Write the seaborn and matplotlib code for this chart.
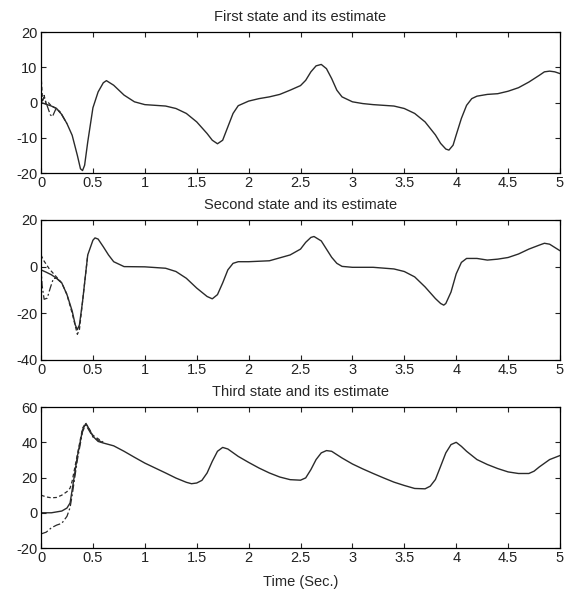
import matplotlib
matplotlib.use('Agg')

import matplotlib.pyplot as plt
import seaborn as sns

# first state (true) and two estimates near the start
t1 = [0, 0.05, 0.1, 0.15, 0.2, 0.25, 0.3, 0.35, 0.38, 0.4, 0.42, 0.45, 0.5, 0.55, 0.6,
      0.63, 0.7, 0.75, 0.8, 0.9, 1.0, 1.1, 1.2, 1.3, 1.4, 1.5, 1.6, 1.65, 1.7, 1.75,
      1.8, 1.85, 1.9, 2.0, 2.1, 2.2, 2.3, 2.4, 2.5, 2.55, 2.6, 2.65, 2.7, 2.75, 2.8,
      2.85, 2.9, 3.0, 3.1, 3.2, 3.3, 3.4, 3.5, 3.6, 3.7, 3.8, 3.85, 3.9, 3.93, 3.97,
      4.0, 4.05, 4.1, 4.15, 4.2, 4.3, 4.4, 4.5, 4.6, 4.7, 4.8, 4.85, 4.9, 4.95, 5.0]
x1 = [0, -0.5, -1, -1.7, -3.4, -6, -9.3, -15, -18.8, -19.3, -17.8, -11.2, -1.5, 3, 5.6,
      6.2, 4.9, 3.5, 2.1, 0.2, -0.6, -0.8, -1, -1.7, -3.1, -5.5, -8.8, -10.7, -11.7, -10.7,
      -6.9, -3.1, -0.9, 0.4, 1.1, 1.6, 2.3, 3.5, 4.8, 6.3, 8.7, 10.4, 10.8, 9.6, 6.8,
      3.5, 1.6, 0.2, -0.3, -0.6, -0.8, -1, -1.7, -3.1, -5.5, -9.2, -11.6, -13.2, -13.5, -12.1,
      -9.2, -4.5, -0.8, 1.1, 1.8, 2.3, 2.5, 3.2, 4.2, 5.8, 7.7, 8.7, 8.9, 8.7, 8.2]
t1_est_a = [0, 0.015, 0.03, 0.05, 0.07, 0.1, 0.15, 0.2]
x1_est_a = [8, 0.5, 2, -0.5, 0, -1, -1.7, -3.4]
t1_est_b = [0, 0.03, 0.06, 0.09, 0.11, 0.14, 0.18, 0.25]
x1_est_b = [0, 1.5, -1, -3.5, -4, -2, -2.5, -6]

# second state
t2 = [0, 0.05, 0.1, 0.15, 0.2, 0.25, 0.3, 0.33, 0.35, 0.37, 0.4, 0.45, 0.5, 0.52, 0.55,
      0.6, 0.65, 0.7, 0.8, 1.0, 1.2, 1.3, 1.4, 1.5, 1.6, 1.65, 1.7, 1.75, 1.8, 1.85,
      1.9, 2.0, 2.2, 2.4, 2.5, 2.55, 2.6, 2.63, 2.7, 2.75, 2.8, 2.85, 2.9, 3.0, 3.2,
      3.4, 3.5, 3.6, 3.7, 3.8, 3.85, 3.88, 3.9, 3.95, 4.0, 4.05, 4.1, 4.2, 4.3, 4.4,
      4.5, 4.6, 4.7, 4.8, 4.85, 4.9, 4.95, 5.0]
x2 = [-1.4, -2.4, -3.5, -5, -7, -12, -19, -25, -27, -25, -15, 5, 11.3, 12.3, 11.8,
      8.5, 5, 2.1, 0, -0.1, -0.7, -2.1, -5, -9.2, -12.8, -13.8, -12, -7, -1.4, 1.4,
      2.1, 2.1, 2.5, 5, 7.5, 10.4, 12.5, 12.9, 11, 7.5, 4, 1.4, 0.1, -0.3, -0.3,
      -1, -2.1, -4.4, -8.7, -13.7, -15.8, -16.5, -15.8, -10.9, -3.1, 1.8, 3.5, 3.5, 2.8, 3.2,
      3.9, 5.4, 7.5, 9.2, 10, 9.6, 8.2, 6.8]
t2_est_a = [0, 0.02, 0.05, 0.08, 0.12, 0.16, 0.2, 0.25, 0.3, 0.35, 0.37, 0.4, 0.45]
x2_est_a = [5, 3, 1, -1, -3, -5, -7, -12, -20, -29, -27, -15, 5]
t2_est_b = [0, 0.01, 0.03, 0.06, 0.09, 0.12, 0.15, 0.2]
x2_est_b = [0, -8, -14, -13.5, -9, -5, -5, -7]

# third state
t3 = [0, 0.1, 0.2, 0.25, 0.28, 0.3, 0.35, 0.4, 0.43, 0.45, 0.5, 0.55, 0.6, 0.7, 0.8,
      0.9, 1.0, 1.1, 1.2, 1.3, 1.4, 1.45, 1.5, 1.55, 1.6, 1.65, 1.7, 1.75, 1.8, 1.9,
      2.0, 2.1, 2.2, 2.3, 2.4, 2.5, 2.55, 2.6, 2.65, 2.7, 2.75, 2.8, 2.9, 3.0, 3.1,
      3.2, 3.3, 3.4, 3.5, 3.6, 3.7, 3.75, 3.8, 3.85, 3.9, 3.95, 4.0, 4.05, 4.1, 4.2,
      4.3, 4.4, 4.5, 4.6, 4.7, 4.75, 4.8, 4.9, 5.0]
x3 = [0, 0, 1, 2.7, 5.6, 13, 32, 47, 50.5, 49, 43.4, 40.5, 39.6, 38, 34.9,
      31.5, 28.2, 25.4, 22.6, 19.7, 17.3, 16.5, 16.9, 18.4, 22.6, 29.2, 34.9, 37.1, 36.2, 32,
      28.6, 25.4, 22.6, 20.3, 18.8, 18.5, 19.8, 24.5, 30.2, 34, 35.3, 34.9, 31.1, 27.7, 24.9,
      22.3, 19.8, 17.4, 15.5, 13.8, 13.6, 15.1, 18.9, 26.4, 34, 38.7, 40, 37.7, 34.9, 30.2,
      27.4, 25.1, 23.2, 22.3, 22.3, 23.6, 26, 30.2, 32.5]
t3_est_a = [0, 0.05, 0.1, 0.15, 0.2, 0.25, 0.28, 0.3, 0.35, 0.4, 0.43, 0.5, 0.6]
x3_est_a = [10, 9, 8.5, 8.7, 10, 12, 14, 18, 33, 48, 51, 44, 40]
t3_est_b = [0, 0.05, 0.1, 0.15, 0.2, 0.25, 0.28, 0.3, 0.35, 0.4, 0.43, 0.5, 0.6]
x3_est_b = [-12, -11, -8.5, -7, -6, -2, 3, 10, 30, 46, 50, 43, 39.6]

titles = ["First state and its estimate",
          "Second state and its estimate",
          "Third state and its estimate"]
ylims = [(-20, 20), (-40, 20), (-20, 60)]
yticks = [[-20, -10, 0, 10, 20], [-40, -20, 0, 20], [-20, 0, 20, 40, 60]]
xticks = [0, 0.5, 1, 1.5, 2, 2.5, 3, 3.5, 4, 4.5, 5]
xticklabels = ["0", "0.5", "1", "1.5", "2", "2.5", "3", "3.5", "4", "4.5", "5"]

FS = 10.5


def draw_state(ax, t, x, ta, xa, tb, xb, title, ylim, yt):
    col = "#2a2a2a"
    sns.lineplot(x=ta, y=xa, ax=ax, color=col, linewidth=0.9, linestyle=(0, (3, 2)),
                 sort=False, estimator=None)
    sns.lineplot(x=tb, y=xb, ax=ax, color=col, linewidth=0.9, linestyle=(0, (6, 2, 1.5, 2)),
                 sort=False, estimator=None)
    sns.lineplot(x=t, y=x, ax=ax, color=col, linewidth=1.0,
                 sort=False, estimator=None)
    ax.set_xlim(0, 5)
    ax.set_ylim(*ylim)
    ax.set_yticks(yt)
    ax.set_yticklabels([str(v) for v in yt])
    ax.set_xticks(xticks)
    ax.set_xticklabels(xticklabels)
    ax.set_title(title, fontsize=FS, pad=8)
    ax.set_xlabel("")
    ax.set_ylabel("")
    ax.tick_params(direction="in", length=3.5, width=0.8, labelsize=FS, pad=2.5,
                   top=True, right=True, colors="#222222")
    for s in ax.spines.values():
        s.set_visible(True)
        s.set_linewidth(0.9)
        s.set_color("black")


def main():
    sns.set_style("ticks")
    plt.rcParams['font.family'] = ['Liberation Sans', 'DejaVu Sans']
    fig = plt.figure(figsize=(5.73, 5.96), dpi=100)
    ax1 = fig.add_axes([0.0716, 0.7097, 0.9057, 0.2366])
    ax2 = fig.add_axes([0.0716, 0.396, 0.9057, 0.235])
    ax3 = fig.add_axes([0.0716, 0.0805, 0.9057, 0.2365])

    draw_state(ax1, t1, x1, t1_est_a, x1_est_a, t1_est_b, x1_est_b, titles[0], ylims[0], yticks[0])
    draw_state(ax2, t2, x2, t2_est_a, x2_est_a, t2_est_b, x2_est_b, titles[1], ylims[1], yticks[1])
    draw_state(ax3, t3, x3, t3_est_a, x3_est_a, t3_est_b, x3_est_b, titles[2], ylims[2], yticks[2])
    ax3.set_xlabel("Time (Sec.)", fontsize=FS, labelpad=7)

    plt.savefig("out.png", dpi=100)


if __name__ == "__main__":
    main()
